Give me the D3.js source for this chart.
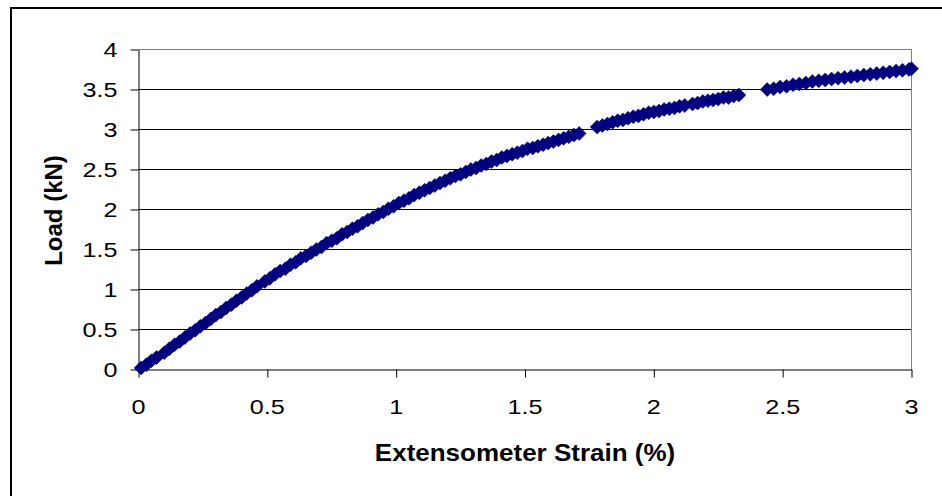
<!DOCTYPE html>
<html>
<head>
<meta charset="utf-8">
<script src="https://cdn.jsdelivr.net/npm/d3@7"></script>
<style>
  html, body { margin: 0; padding: 0; background: #fff; }
  svg { display: block; }
  text { font-family: "Liberation Sans", Arial, sans-serif; fill: #000; }
</style>
</head>
<body>
<svg id="chart" width="942" height="496"></svg>
<script>
// Tick values and labels
const xTickValues = [0, 0.5, 1, 1.5, 2, 2.5, 3];
const xTickLabels = ["0", "0.5", "1", "1.5", "2", "2.5", "3"];
const yTickValues = [0, 0.5, 1, 1.5, 2, 2.5, 3, 3.5, 4];
const yTickLabels = ["0", "0.5", "1", "1.5", "2", "2.5", "3", "3.5", "4"];

// Extensometer strain (%) readings
const strain = [
  0.01, 0.03, 0.05, 0.07, 0.10, 0.12, 0.14, 0.16, 0.18, 0.20,
  0.22, 0.24, 0.26, 0.28, 0.30, 0.32, 0.34, 0.36, 0.38, 0.40,
  0.42, 0.44, 0.46, 0.49, 0.51, 0.53, 0.55, 0.57, 0.59, 0.61,
  0.63, 0.65, 0.67, 0.69, 0.71, 0.73, 0.75, 0.77, 0.79, 0.81,
  0.83, 0.85, 0.87, 0.89, 0.91, 0.93, 0.95, 0.97, 0.99, 1.01,
  1.03, 1.05, 1.07, 1.09, 1.11, 1.13, 1.15, 1.17, 1.19, 1.21,
  1.23, 1.25, 1.27, 1.29, 1.31, 1.33, 1.35, 1.37, 1.39, 1.41,
  1.43, 1.45, 1.47, 1.49, 1.51, 1.53, 1.55, 1.57, 1.59, 1.61,
  1.63, 1.65, 1.67, 1.69, 1.71,
  1.78, 1.80, 1.82, 1.84, 1.86, 1.88, 1.90, 1.92, 1.94, 1.96,
  1.98, 2.00, 2.02, 2.04, 2.06, 2.08, 2.10, 2.12, 2.15, 2.17,
  2.19, 2.21, 2.23, 2.25, 2.27, 2.29, 2.31, 2.33,
  2.44, 2.465, 2.49, 2.515, 2.54, 2.565, 2.59, 2.615, 2.64, 2.665,
  2.69, 2.715, 2.74, 2.765, 2.79, 2.815, 2.84, 2.865, 2.89, 2.915,
  2.94, 2.965, 2.99, 3.00
];

// Load (kN) readings, paired with the strain readings above
const load = [
  0.02, 0.06, 0.11, 0.15, 0.21, 0.26, 0.31, 0.35, 0.40, 0.45,
  0.49, 0.54, 0.58, 0.63, 0.68, 0.72, 0.77, 0.81, 0.86, 0.90,
  0.95, 0.99, 1.04, 1.10, 1.14, 1.19, 1.23, 1.26, 1.31, 1.34,
  1.39, 1.42, 1.46, 1.50, 1.53, 1.58, 1.61, 1.64, 1.69, 1.72,
  1.76, 1.79, 1.83, 1.87, 1.90, 1.94, 1.97, 2.01, 2.04, 2.08,
  2.11, 2.14, 2.18, 2.21, 2.24, 2.27, 2.30, 2.33, 2.36, 2.39,
  2.42, 2.44, 2.47, 2.50, 2.52, 2.55, 2.57, 2.60, 2.62, 2.65,
  2.67, 2.69, 2.71, 2.73, 2.76, 2.77, 2.79, 2.81, 2.83, 2.85,
  2.87, 2.89, 2.91, 2.93, 2.95,
  3.03, 3.05, 3.07, 3.09, 3.11, 3.12, 3.14, 3.16, 3.17, 3.19,
  3.21, 3.22, 3.23, 3.25, 3.26, 3.27, 3.29, 3.30, 3.32, 3.33,
  3.35, 3.36, 3.37, 3.38, 3.40, 3.40, 3.42, 3.43,
  3.50, 3.51, 3.53, 3.54, 3.56, 3.57, 3.58, 3.60, 3.61, 3.62,
  3.63, 3.64, 3.65, 3.66, 3.67, 3.68, 3.69, 3.70, 3.71, 3.72,
  3.73, 3.74, 3.75, 3.76
];

const svg = d3.select("#chart");

// Plot area
const plotLeft = 138.5, plotRight = 911.5, plotTop = 49.5, plotBottom = 369.5;
const x = d3.scaleLinear().domain([0, 3]).range([plotLeft, plotRight]);
const y = d3.scaleLinear().domain([0, 4]).range([plotBottom, plotTop]);

// Outer chart frame
svg.append("rect")
  .attr("x", 11).attr("y", 8)
  .attr("width", 960).attr("height", 520)
  .attr("fill", "none").attr("stroke", "#000").attr("stroke-width", 2);

// Horizontal gridlines
svg.append("g")
  .selectAll("line")
  .data(yTickValues.filter(v => v > 0 && v < 4))
  .join("line")
  .attr("x1", plotLeft).attr("x2", plotRight)
  .attr("y1", d => y(d)).attr("y2", d => y(d))
  .attr("stroke", "#000").attr("stroke-width", 1);

// Plot area border (top and right)
svg.append("path")
  .attr("d", `M${plotLeft},${plotTop}H${plotRight}V${plotBottom}`)
  .attr("fill", "none").attr("stroke", "#808080").attr("stroke-width", 1);

// Axes
const yAxis = d3.axisLeft(y).tickValues(yTickValues).tickSize(8).tickSizeOuter(0).tickFormat("");
const xAxis = d3.axisBottom(x).tickValues(xTickValues).tickSize(8).tickSizeOuter(0).tickFormat("");

svg.append("g").attr("transform", `translate(${plotLeft},0)`).call(yAxis)
  .call(g => g.selectAll("path, line").attr("stroke", "#000"));
svg.append("g").attr("transform", `translate(0,${plotBottom})`).call(xAxis)
  .call(g => g.selectAll("path, line").attr("stroke", "#000"));

// Tick labels
const tickFont = 21, stretch = 1.2;
svg.append("g")
  .selectAll("text")
  .data(yTickValues)
  .join("text")
  .attr("transform", d => `translate(117.5,${y(d) + 7.5}) scale(${stretch},1)`)
  .attr("text-anchor", "end")
  .style("font-size", tickFont + "px")
  .text((d, i) => yTickLabels[i]);

svg.append("g")
  .selectAll("text")
  .data(xTickValues)
  .join("text")
  .attr("transform", d => `translate(${x(d)},413.5) scale(${stretch},1)`)
  .attr("text-anchor", "middle")
  .style("font-size", tickFont + "px")
  .text((d, i) => xTickLabels[i]);

// Axis titles
svg.append("text")
  .attr("transform", `translate(${(plotLeft + plotRight) / 2},461) scale(1.13,1)`)
  .attr("text-anchor", "middle")
  .style("font-size", "23px").style("font-weight", "bold")
  .text("Extensometer Strain (%)");

svg.append("text")
  .attr("transform", `translate(61.5,${(plotTop + plotBottom) / 2 + 1}) rotate(-90)`)
  .attr("text-anchor", "middle")
  .style("font-size", "24px").style("font-weight", "bold")
  .text("Load (kN)");

// Diamond markers
const h = 7;
const diamond = `M0,${-h}L${h},0L0,${h}L${-h},0Z`;
svg.append("g")
  .selectAll("path")
  .data(d3.range(strain.length))
  .join("path")
  .attr("d", diamond)
  .attr("transform", i => `translate(${x(strain[i])},${y(load[i])})`)
  .attr("fill", "#000080")
  .attr("stroke", "#000080")
  .attr("stroke-width", 0.5);
</script>
</body>
</html>
